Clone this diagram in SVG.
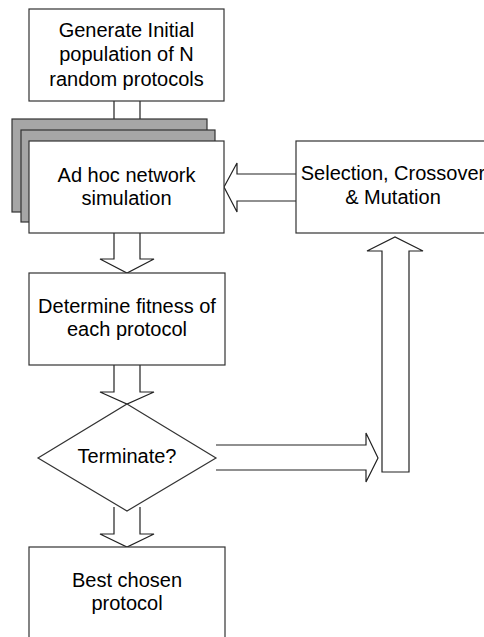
<svg xmlns="http://www.w3.org/2000/svg" width="484" height="637" viewBox="0 0 484 637">
<style>
.box{fill:#fff;stroke:#333;stroke-width:1.2}
.sh{fill:#a6a6a6;stroke:#333;stroke-width:1.2}
.arr{fill:#fff;stroke:#222;stroke-width:1.2;stroke-linejoin:miter}
text{font-family:"Liberation Sans",Arial,sans-serif;font-size:20px;fill:#000;text-anchor:middle}
</style>
<g id="connectors">
<path class="arr" d="M114,101 V128 H100 L127,141 L154,128 H140 V101"/>
<path class="arr" d="M114,233 V259 H100 L127,273 L154,259 H140 V233"/>
<path class="arr" d="M114,365 V392 H100 L127,404 L154,392 H140 V365"/>
<path class="arr" d="M114,507 V534 H100 L127,547 L154,534 H140 V507"/>
<path class="arr" d="M296,174 H237 V163 L224,187 L237,212 V201 H296"/>
<path class="arr" d="M216,445 H366 V433 L378,458 L366,482 V470 H216"/>
<path class="arr" d="M382,472 V251 H367 L395,237 L423,251 H409 V472 Z"/>
</g>
<g id="n1">
<rect class="box" x="29" y="9" width="195" height="92"/>
<text x="126.5" y="37">Generate Initial</text>
<text x="126.5" y="61">population of N</text>
<text x="126.5" y="86">random protocols</text>
</g>
<g id="n2">
<rect class="sh" x="12" y="119" width="195" height="93"/>
<rect class="sh" x="21" y="130" width="194" height="92"/>
<rect class="box" x="29" y="141" width="195" height="92"/>
<text x="126.5" y="182">Ad hoc network</text>
<text x="126.5" y="205">simulation</text>
</g>
<g id="n3">
<rect class="box" x="296" y="141" width="195" height="92"/>
<text x="393" y="180">Selection, Crossover</text>
<text x="393" y="204">&amp; Mutation</text>
</g>
<g id="n4">
<rect class="box" x="29" y="273" width="196" height="92"/>
<text x="127" y="313">Determine fitness of</text>
<text x="127" y="336">each protocol</text>
</g>
<g id="n5">
<polygon class="box" points="127,404 216,458 127,511 38,458"/>
<text x="127" y="463">Terminate?</text>
</g>
<g id="n6">
<rect class="box" x="29" y="547" width="196" height="100"/>
<text x="127" y="587">Best chosen</text>
<text x="127" y="610">protocol</text>
</g>
</svg>
